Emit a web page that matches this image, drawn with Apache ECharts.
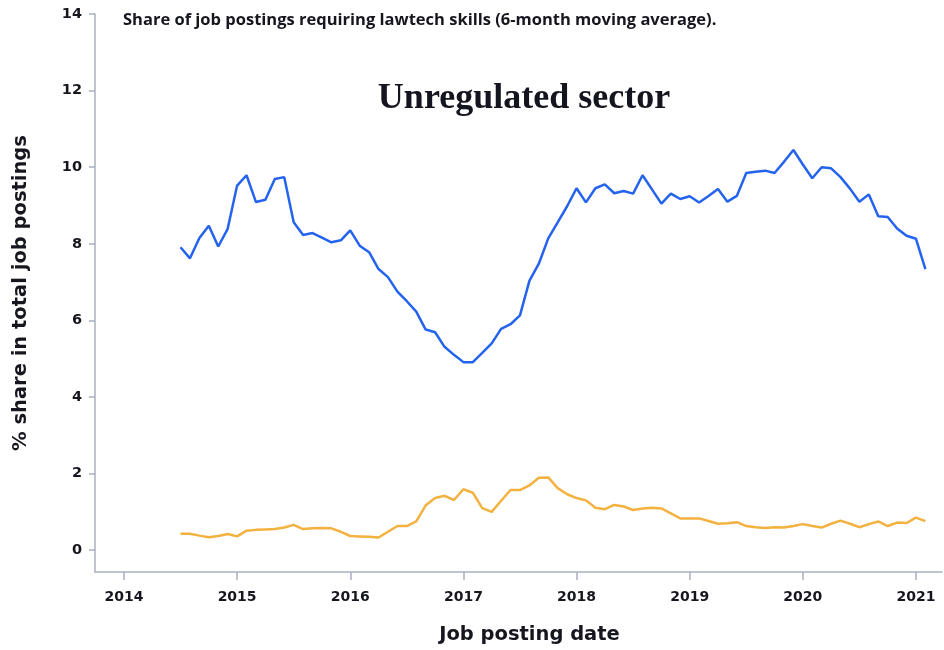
<!DOCTYPE html>
<html lang="en">
  <head>
    <meta charset="UTF-8" />
    <title>Unregulated sector</title>
    <script src="https://cdn.jsdelivr.net/npm/echarts@6/dist/echarts.min.js"></script>
    <style>
      html, body { margin: 0; padding: 0; background: #fff; }
      .echarts { width: 944px; height: 650px; }
    </style>
  </head>
  <body>
    <div class="echarts"></div>
    <script>
      // monthly points, Jul 2014 .. Feb 2021
      const startYear = 2014
      const startMonth = 7
      const yearTicks = [2014, 2015, 2016, 2017, 2018, 2019, 2020, 2021]
      const valueTicks = [0, 2, 4, 6, 8, 10, 12, 14]

      const blueValues = [
        7.91, 7.62, 8.15, 8.47, 7.93, 8.39,
        9.52, 9.79, 9.09, 9.15, 9.69, 9.74, 8.56, 8.23, 8.28, 8.16, 8.04, 8.09,
        8.35, 7.95, 7.78, 7.34, 7.13, 6.75, 6.50, 6.23, 5.76, 5.69, 5.31, 5.10,
        4.91, 4.91, 5.15, 5.40, 5.78, 5.90, 6.13, 7.03, 7.48, 8.14, 8.56, 8.98,
        9.45, 9.08, 9.45, 9.55, 9.32, 9.38, 9.31, 9.79, 9.42, 9.05, 9.31, 9.17,
        9.24, 9.08, 9.25, 9.43, 9.10, 9.25, 9.85, 9.88, 9.91, 9.85, 10.14, 10.45,
        10.07, 9.71, 10.00, 9.97, 9.74, 9.44, 9.10, 9.29, 8.72, 8.70, 8.40, 8.21,
        8.13, 7.34
      ]
      const orangeValues = [
        0.43, 0.43, 0.38, 0.34, 0.37, 0.42,
        0.36, 0.51, 0.53, 0.54, 0.55, 0.59, 0.66, 0.55, 0.57, 0.58, 0.57, 0.48,
        0.37, 0.36, 0.35, 0.33, 0.48, 0.63, 0.63, 0.75, 1.17, 1.36, 1.42, 1.31,
        1.59, 1.50, 1.10, 1.00, 1.29, 1.57, 1.57, 1.69, 1.89, 1.90, 1.62, 1.46,
        1.36, 1.30, 1.11, 1.07, 1.18, 1.14, 1.05, 1.09, 1.11, 1.09, 0.96, 0.83,
        0.83, 0.83, 0.76, 0.69, 0.70, 0.73, 0.63, 0.60, 0.58, 0.60, 0.59, 0.63,
        0.68, 0.63, 0.59, 0.69, 0.77, 0.69, 0.60, 0.68, 0.75, 0.63, 0.72, 0.71,
        0.85, 0.76
      ]

      // month position as decimal year
      const monthX = blueValues.map((_, i) => startYear + (startMonth - 1 + i) / 12)

      const axisColor = '#aab0bf'
      const textColor = '#16161f'
      const sans = '"DejaVu Sans", "Open Sans", sans-serif'

      const myCharts = echarts.init(document.querySelector('.echarts'))
      const option = {
        animation: false,
        title: [
          {
            text: 'Share of job postings requiring lawtech skills (6-month moving average).',
            left: 123, top: 12, padding: 0,
            textStyle: { fontFamily: '"Open Sans", sans-serif', fontSize: 16.5, fontWeight: 'bold', color: textColor }
          },
          {
            text: 'Unregulated sector',
            left: 524, top: 81, padding: 0, textAlign: 'center',
            textStyle: { fontFamily: '"Liberation Serif", "DejaVu Serif", serif', fontSize: 36, fontWeight: 'bold', color: '#15151f' }
          }
        ],
        grid: { left: 95, right: 2, top: 14, bottom: 77 },
        xAxis: {
          type: 'value',
          min: 2013.744,
          max: 2021.23,
          name: 'Job posting date',
          nameLocation: 'middle',
          nameGap: 53,
          nameTextStyle: { fontFamily: sans, fontSize: 19.5, fontWeight: 'bold', color: textColor, padding: [0, 0, 0, 22] },
          splitLine: { show: false },
          axisLine: { show: true, onZero: false, lineStyle: { color: axisColor, width: 1.5 } },
          axisTick: { show: true, length: 8, customValues: yearTicks, lineStyle: { color: axisColor, width: 1.5 } },
          axisLabel: {
            customValues: yearTicks,
            margin: 18,
            fontFamily: sans, fontSize: 14, fontWeight: 'bold', color: textColor,
            formatter: v => String(v)
          }
        },
        yAxis: {
          type: 'value',
          min: -0.57,
          max: 14,
          name: '% share in total job postings',
          nameLocation: 'middle',
          nameGap: 64,
          nameTextStyle: { fontFamily: sans, fontSize: 19.5, fontWeight: 'bold', color: textColor },
          splitLine: { show: false },
          axisLine: { show: true, onZero: false, lineStyle: { color: axisColor, width: 1.5 } },
          axisTick: { show: true, length: 6, customValues: valueTicks, lineStyle: { color: axisColor, width: 1.5 } },
          axisLabel: {
            customValues: valueTicks,
            margin: 13,
            fontFamily: sans, fontSize: 14.5, fontWeight: 'bold', color: textColor
          }
        },
        series: [
          {
            name: 'Lawtech share (blue)',
            type: 'line',
            data: monthX.map((x, i) => [x, blueValues[i]]),
            showSymbol: false,
            lineStyle: { color: '#2463ee', width: 2.5 },
            itemStyle: { color: '#2463ee' }
          },
          {
            name: 'Lawtech share (orange)',
            type: 'line',
            data: monthX.map((x, i) => [x, orangeValues[i]]),
            showSymbol: false,
            lineStyle: { color: '#f3b240', width: 2.5 },
            itemStyle: { color: '#f3b240' }
          }
        ]
      }
      myCharts.setOption(option)
    </script>
  </body>
</html>
